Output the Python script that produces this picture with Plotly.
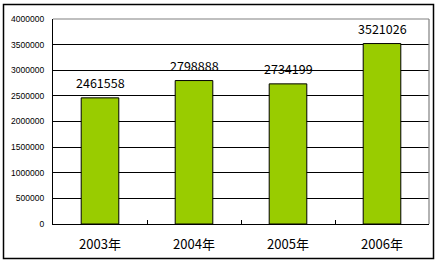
import plotly.graph_objects as go

categories = ["2003年", "2004年", "2005年", "2006年"]
values = [2461558, 2798888, 2734199, 3521026]
value_labels = ["2461558", "2798888", "2734199", "3521026"]
y_ticks = [0, 500000, 1000000, 1500000, 2000000, 2500000, 3000000, 3500000, 4000000]
y_tick_labels = [str(v) for v in y_ticks]

W, H = 440, 265
L, R, T, B = 53, 11, 19, 41
pw, ph = W - L - R, H - T - B

def px_x(x):
    return (x - L) / pw

def px_y(y):
    return (H - B - y) / ph

fig = go.Figure()
fig.add_trace(go.Bar(
    x=categories, y=values,
    marker=dict(color="#99CC00", line=dict(color="#000000", width=1)),
    width=0.4,
    hoverinfo="skip",
))

for c, v, t in zip(categories, values, value_labels):
    fig.add_annotation(x=c, y=v, text=t, showarrow=False, yanchor="bottom",
                       yshift=4, font=dict(family="Noto Sans CJK SC", size=12.5, color="#000000"))

# outer border
fig.add_shape(type="rect", xref="paper", yref="paper",
              x0=px_x(3.5), x1=px_x(433.5), y0=px_y(258.5), y1=px_y(4.5),
              line=dict(color="#000000", width=1.5), layer="above")
# gray plot-area top and right edges
fig.add_shape(type="line", xref="paper", yref="paper", x0=0, x1=1, y0=1, y1=1,
              line=dict(color="#808080", width=1.2), layer="above")
fig.add_shape(type="line", xref="paper", yref="paper", x0=1, x1=1, y0=0, y1=1,
              line=dict(color="#808080", width=1.2), layer="above")

fig.update_layout(
    width=W, height=H,
    margin=dict(l=L, r=R, t=T, b=B, pad=0),
    paper_bgcolor="#FFFFFF", plot_bgcolor="#FFFFFF",
    showlegend=False,
    bargap=0.6,
    xaxis=dict(
        type="category", showgrid=False, showline=True, linecolor="#000000", linewidth=1.2,
        ticks="inside", tickson="boundaries", ticklen=4, tickcolor="#000000", tickwidth=1,
        tickfont=dict(family="Noto Sans CJK SC", size=13, color="#000000"),
        ticklabelstandoff=8, fixedrange=True,
    ),
    yaxis=dict(
        range=[0, 4000000], tickvals=y_ticks, ticktext=y_tick_labels,
        showgrid=True, gridcolor="#000000", gridwidth=1,
        showline=True, linecolor="#000000", linewidth=1.2, zeroline=False,
        ticks="", tickfont=dict(family="Liberation Sans", size=8.5, color="#000000"),
        ticklabelstandoff=6, fixedrange=True,
    ),
)

fig.write_html("out.html")
